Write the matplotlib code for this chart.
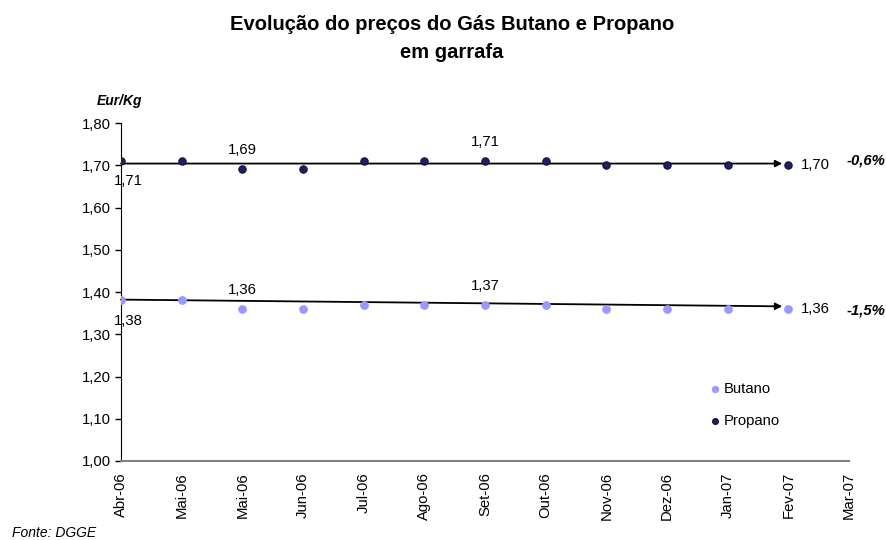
import matplotlib
matplotlib.use("Agg")
import matplotlib.pyplot as plt

plt.rcParams['font.family'] = ['Liberation Sans', 'DejaVu Sans']

months = ["Abr-06", "Mai-06", "Mai-06", "Jun-06", "Jul-06", "Ago-06", "Set-06",
          "Out-06", "Nov-06", "Dez-06", "Jan-07", "Fev-07", "Mar-07"]
propano = [1.71, 1.71, 1.69, 1.69, 1.71, 1.71, 1.71, 1.71, 1.70, 1.70, 1.70, 1.70]
butano = [1.38, 1.38, 1.36, 1.36, 1.37, 1.37, 1.37, 1.37, 1.36, 1.36, 1.36, 1.36]
propano_trend = (1.704, 1.704)
butano_trend = (1.382, 1.366)
propano_change = "-0,6%"
butano_change = "-1,5%"

fig = plt.figure(figsize=(8.87, 5.4), dpi=100)
ax = fig.add_axes([121/887, 1-461/540, (849-121)/887, (461-123)/540])

x = list(range(len(propano)))
ax.scatter(x, butano, s=28, color="#9999ff", edgecolor="#9999ff", zorder=3, label="Butano")
ax.scatter(x, propano, s=28, color="#1f1f66", edgecolor="#111133", linewidth=0.8, zorder=3, label="Propano")

# trend arrows
for tr in (propano_trend, butano_trend):
    ax.annotate("", xy=(10.9, tr[1]), xytext=(0, tr[0]),
                arrowprops=dict(arrowstyle="-|>", color="black", lw=1.3, mutation_scale=10,
                                shrinkA=0, shrinkB=0), zorder=2)

def fmt(v):
    return f"{v:.2f}".replace(".", ",")

fs = 10.7
# data labels
for series in (propano, butano):
    ax.annotate(fmt(series[0]), (0, series[0]), xytext=(-5, -14.5), textcoords="offset points",
                ha="left", va="center", fontsize=fs)
    ax.annotate(fmt(series[2]), (2, series[2]), xytext=(0, 13.7), textcoords="offset points",
                ha="center", va="center", fontsize=fs)
    ax.annotate(fmt(series[6]), (6, series[6]), xytext=(0, 13.7), textcoords="offset points",
                ha="center", va="center", fontsize=fs)
    ax.annotate(fmt(series[11]), (11, series[11]), xytext=(9, 0), textcoords="offset points",
                ha="left", va="center", fontsize=fs)

ax.text(12.6, propano[11] + 0.012, propano_change, ha="right", va="center",
        fontsize=fs, fontweight="bold", style="italic", clip_on=False)
ax.text(12.6, butano[11] - 0.004, butano_change, ha="right", va="center",
        fontsize=fs, fontweight="bold", style="italic", clip_on=False)

ax.set_xlim(0, 12)
ax.set_ylim(1.0, 1.8)
ax.set_xticks(range(len(months)))
ax.set_xticklabels(months, rotation=90, fontsize=10.7)
ax.tick_params(axis="x", length=0, pad=8)
ax.set_yticks([1.0 + 0.1 * i for i in range(9)])
ax.set_yticklabels([fmt(1.0 + 0.1 * i) for i in range(9)], fontsize=fs)
ax.tick_params(axis="y", length=4, direction="out", width=1, pad=3)

for s in ("top", "right"):
    ax.spines[s].set_visible(False)
ax.spines["left"].set_color("black")
ax.spines["bottom"].set_color("#808080")
ax.spines["bottom"].set_linewidth(1.5)

leg = ax.legend(loc="upper left", bbox_to_anchor=(573/728, 92/338), frameon=False,
                fontsize=fs, handletextpad=0.1, labelspacing=1.2, markerscale=0.8,
                handlelength=1.0)

fig.text(452/887, 1-25/540, "Evolução do preços do Gás Butano e Propano", ha="center",
         va="center", fontsize=14.5, fontweight="bold")
fig.text(452/887, 1-52/540, "em garrafa", ha="center", va="center", fontsize=14.5,
         fontweight="bold")
fig.text(97/887, 1-101/540, "Eur/Kg", ha="left", va="center", fontsize=10,
         fontweight="bold", style="italic")
fig.text(12/887, 1-533/540, "Fonte: DGGE", ha="left", va="center", fontsize=10, style="italic")

fig.savefig("out.png", dpi=100)
